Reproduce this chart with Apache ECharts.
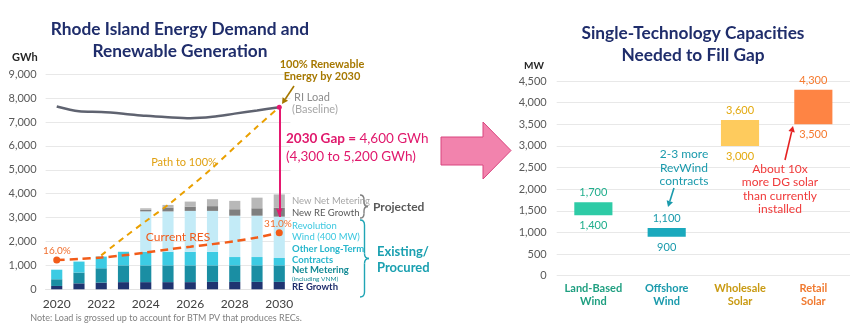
<!DOCTYPE html>
<html>
<head>
<meta charset="utf-8">
<script src="https://cdn.jsdelivr.net/npm/echarts@6.0.0/dist/echarts.min.js"></script>
<style>
  html, body { margin: 0; padding: 0; background: #ffffff; }
  #chart { width: 860px; height: 328px; }
</style>
</head>
<body>
<div id="chart"></div>
<script>
// ---------- Left panel: RI energy demand and renewable generation (GWh) ----------
const years = ['2020', '2021', '2022', '2023', '2024', '2025', '2026', '2027', '2028', '2029', '2030'];
const reGrowth       = [140, 250, 280, 300, 300, 300, 300, 310, 310, 310, 310];
const netMetering    = [280, 450, 600, 700, 700, 700, 700, 690, 690, 690, 690];
const otherContracts = [400, 460, 490, 570, 570, 570, 570, 570, 350, 350, 310];
const revolutionWind = [0, 0, 0, 0, 1690, 1690, 1710, 1710, 1730, 1730, 1730];
const newReGrowth    = [0, 0, 0, 0, 70, 160, 180, 200, 270, 310, 370];
const newNetMetering = [0, 0, 0, 0, 60, 110, 210, 290, 350, 445, 560];
const riLoad         = [7650, 7450, 7420, 7350, 7260, 7200, 7160, 7220, 7350, 7480, 7620];
const currentRes     = [1226, 1270, 1330, 1420, 1540, 1670, 1780, 1890, 2010, 2170, 2370];
const pathTo100      = [null, null, 1420, 2150, 2850, 3530, 4290, 5080, 5950, 6800, 7620];
const resShareStart = '16.0%';
const resShareEnd = '31.0%';
const gapGWh = 4600;
const gwhTicks = { min: 0, max: 9000, interval: 1000 };

// ---------- Right panel: single-technology capacity ranges (MW) ----------
const technologies = ['Land-Based\nWind', 'Offshore\nWind', 'Wholesale\nSolar', 'Retail\nSolar'];
const lowMW  = [1400, 900, 3000, 3500];
const highMW = [1700, 1100, 3600, 4300];
const mwTicks = { min: 0, max: 4500, interval: 500 };

const FONT = 'Lato, "Open Sans", sans-serif';
const fmt = v => Number(v).toLocaleString('en-US');

const barColors   = ['#2ecba6', '#1aa9bd', '#fecb5d', '#fe8444'];
const valueColors = ['#1fae8c', '#1a9aac', '#e3a90e', '#f57a2f'];
const catColors   = ['#1f9f80', '#1a9aac', '#c99a12', '#f07a30'];

const gapTop = riLoad[riLoad.length - 1];
const gapBottom = gapTop - gapGWh;

function text(x, y, str, opts) {
  return {
    type: 'text', silent: true, z: 100,
    style: Object.assign({
      text: str, x: x, y: y, fill: '#595959',
      font: '11px ' + FONT, textAlign: 'left', textVerticalAlign: 'middle'
    }, opts || {})
  };
}

function arrow(x1, y1, x2, y2, color, width, head) {
  const a = Math.atan2(y2 - y1, x2 - x1);
  const hl = head, hw = head * 0.55;
  const bx = x2 - hl * Math.cos(a), by = y2 - hl * Math.sin(a);
  return [
    { type: 'line', silent: true, z: 100, shape: { x1: x1, y1: y1, x2: bx, y2: by },
      style: { stroke: color, lineWidth: width } },
    { type: 'polygon', silent: true, z: 100,
      shape: { points: [[x2, y2],
        [bx + hw * Math.sin(a), by - hw * Math.cos(a)],
        [bx - hw * Math.sin(a), by + hw * Math.cos(a)]] },
      style: { fill: color } }
  ];
}

function brace(x, y1, y2, w, color) {
  const ym = (y1 + y2) / 2, mx = x + w / 2, r = Math.min(5, (y2 - y1) / 5);
  const st = { stroke: color, lineWidth: 1.4, fill: null };
  return [
    { type: 'bezierCurve', silent: true, z: 100, shape: { x1: x, y1: y1, cpx1: mx, cpy1: y1, x2: mx, y2: y1 + r }, style: st },
    { type: 'line', silent: true, z: 100, shape: { x1: mx, y1: y1 + r, x2: mx, y2: ym - r }, style: st },
    { type: 'bezierCurve', silent: true, z: 100, shape: { x1: mx, y1: ym - r, cpx1: mx, cpy1: ym, x2: x + w, y2: ym }, style: st },
    { type: 'bezierCurve', silent: true, z: 100, shape: { x1: x + w, y1: ym, cpx1: mx, cpy1: ym, x2: mx, y2: ym + r }, style: st },
    { type: 'line', silent: true, z: 100, shape: { x1: mx, y1: ym + r, x2: mx, y2: y2 - r }, style: st },
    { type: 'bezierCurve', silent: true, z: 100, shape: { x1: mx, y1: y2 - r, cpx1: mx, cpy1: y2, x2: x, y2: y2 }, style: st }
  ];
}

function stackBar(name, data, color) {
  return {
    name: name, type: 'bar', stack: 'gen', xAxisIndex: 0, yAxisIndex: 0,
    barWidth: '50%', data: data, itemStyle: { color: color }, silent: true
  };
}

const resLineData = currentRes.map((v, i) =>
  (i === 0 || i === currentRes.length - 1) ? { value: v, symbol: 'circle', symbolSize: 7 } : { value: v, symbol: 'none' });

const TITLE = 'bold 17.3px ' + FONT;
const graphics = [
  // titles
  text(180, 29, 'Rhode Island Energy Demand and', { font: TITLE, fill: '#1f2d6b', textAlign: 'center' }),
  text(180, 51, 'Renewable Generation', { font: TITLE, fill: '#1f2d6b', textAlign: 'center' }),
  text(693, 33, 'Single-Technology Capacities', { font: TITLE, fill: '#1f2d6b', textAlign: 'center' }),
  text(693, 55, 'Needed to Fill Gap', { font: TITLE, fill: '#1f2d6b', textAlign: 'center' }),
  text(12, 57, 'GWh', { font: 'bold 11px ' + FONT, fill: '#262626' }),
  text(524, 66, 'MW', { font: 'bold 10px ' + FONT, fill: '#262626' }),

  // left annotations
  text(322, 64, '100% Renewable', { font: 'bold 11px ' + FONT, fill: '#a67800', textAlign: 'center' }),
  text(322, 76, 'Energy by 2030', { font: 'bold 11px ' + FONT, fill: '#a67800', textAlign: 'center' }),
  ...arrow(294, 86, 282, 104, '#a67800', 1.6, 6),
  text(294, 97, 'RI Load', { fill: '#8c8c8c' }),
  text(292, 109, '(Baseline)', { fill: '#a6a6a6' }),
  text(286, 139, '{b|2030 Gap =} 4,600 GWh', {
    font: '13.5px ' + FONT, fill: '#e0186c',
    rich: { b: { fontWeight: 'bold', fontSize: 13.5, fontFamily: FONT, fill: '#e0186c' } }
  }),
  text(286, 157, '(4,300 to 5,200 GWh)', { font: '13.5px ' + FONT, fill: '#e0186c' }),
  text(184, 162, 'Path to 100%', { font: '11px ' + FONT, fill: '#e0a010', textAlign: 'center' }),
  text(178, 237, 'Current RES', { font: '12px ' + FONT, fill: '#f05a1a', textAlign: 'center' }),
  text(57, 251, resShareStart, { font: '10px ' + FONT, fill: '#f07030', textAlign: 'center' }),
  text(278, 224, resShareEnd, { font: '10px ' + FONT, fill: '#f07030', textAlign: 'center' }),

  // series labels
  text(292, 201, 'New Net Metering', { font: '9.5px ' + FONT, fill: '#a6a6a6' }),
  text(292, 213, 'New RE Growth', { font: '9.5px ' + FONT, fill: '#595959' }),
  text(292, 226, 'Revolution', { font: '9.5px ' + FONT, fill: '#3cc8e0' }),
  text(292, 237, 'Wind (400 MW)', { font: '9.5px ' + FONT, fill: '#3cc8e0' }),
  text(292, 249, 'Other Long-Term', { font: 'bold 9.5px ' + FONT, fill: '#27b6cc' }),
  text(292, 260, 'Contracts', { font: 'bold 9.5px ' + FONT, fill: '#27b6cc' }),
  text(292, 270, 'Net Metering', { font: 'bold 9.5px ' + FONT, fill: '#138a95' }),
  text(292, 279, '(including VNM)', { font: '6.5px ' + FONT, fill: '#138a95' }),
  text(292, 287, 'RE Growth', { font: 'bold 9.5px ' + FONT, fill: '#1f2d6b' }),
  ...brace(360, 195, 218, 8, '#7f7f7f'),
  text(373, 207, 'Projected', { font: 'bold 12px ' + FONT, fill: '#595959' }),
  ...brace(360, 220, 297, 9, '#20a5b5'),
  text(377, 252, 'Existing/', { font: 'bold 13px ' + FONT, fill: '#1aa0b0' }),
  text(377, 268, 'Procured', { font: 'bold 13px ' + FONT, fill: '#1aa0b0' }),
  text(166, 318, 'Note: Load is grossed up to account for BTM PV that produces RECs.', {
    font: '9px ' + FONT, fill: '#7f7f7f', textAlign: 'center' }),

  // connector arrow between panels
  { type: 'polygon', silent: true, z: 100,
    shape: { points: [[441, 137], [483, 137], [483, 122], [511, 150.5], [483, 179], [483, 165], [441, 165]] },
    style: { fill: '#f283ad', stroke: '#d9457f', lineWidth: 1 } },

  // right annotations
  text(684, 154, '2-3 more', { font: '12px ' + FONT, fill: '#1a9aac', textAlign: 'center' }),
  text(684, 168, 'RevWind', { font: '12px ' + FONT, fill: '#1a9aac', textAlign: 'center' }),
  text(684, 181, 'contracts', { font: '12px ' + FONT, fill: '#1a9aac', textAlign: 'center' }),
  ...arrow(674, 188, 668, 207, '#1a9aac', 1.6, 6),
  text(780, 169, 'About 10x', { font: '12px ' + FONT, fill: '#f03a3a', textAlign: 'center' }),
  text(780, 182, 'more DG solar', { font: '12px ' + FONT, fill: '#f03a3a', textAlign: 'center' }),
  text(780, 196, 'than currently', { font: '12px ' + FONT, fill: '#f03a3a', textAlign: 'center' }),
  text(780, 209, 'installed', { font: '12px ' + FONT, fill: '#f03a3a', textAlign: 'center' }),
  ...arrow(785, 160, 793, 126, '#e52020', 1.6, 6)
];

const option = {
  animation: false,
  backgroundColor: '#ffffff',
  textStyle: { fontFamily: FONT },
  grid: [
    { left: 45.6, top: 74.2, width: 244.8, height: 215.1, containLabel: false, outerBoundsMode: 'none' },
    { left: 556.7, top: 81, width: 293.3, height: 194.7, containLabel: false, outerBoundsMode: 'none' }
  ],
  xAxis: [
    {
      type: 'category', gridIndex: 0, data: years,
      axisTick: { show: false },
      axisLine: { show: true, lineStyle: { color: '#e3e3e3' } },
      axisLabel: { interval: 1, color: '#404040', fontSize: 12, margin: 9, fontFamily: FONT }
    },
    {
      type: 'category', gridIndex: 1, data: technologies,
      axisTick: { show: false },
      axisLine: { show: false },
      axisLabel: {
        interval: 0, hideOverlap: false,
        color: (v, i) => catColors[i], fontWeight: 'bold', fontSize: 11, lineHeight: 13,
        margin: 6, fontFamily: FONT
      }
    }
  ],
  yAxis: [
    {
      type: 'value', gridIndex: 0, min: gwhTicks.min, max: gwhTicks.max, interval: gwhTicks.interval,
      axisLine: { show: false }, axisTick: { show: false },
      splitLine: { lineStyle: { color: '#e8e8e8' } },
      axisLabel: { formatter: fmt, color: '#595959', fontSize: 11, margin: 9, fontFamily: FONT }
    },
    {
      type: 'value', gridIndex: 1, min: mwTicks.min, max: mwTicks.max, interval: mwTicks.interval,
      axisLine: { show: false }, axisTick: { show: false },
      splitLine: { lineStyle: { color: '#e8e8e8' } },
      axisLabel: { formatter: fmt, color: '#595959', fontSize: 11, margin: 10, fontFamily: FONT }
    }
  ],
  series: [
    stackBar('RE Growth', reGrowth, '#1f3470'),
    stackBar('Net Metering', netMetering, '#1a8ea3'),
    stackBar('Other Long-Term Contracts', otherContracts, '#3ccbe3'),
    stackBar('Revolution Wind', revolutionWind, '#c3ebf7'),
    stackBar('New RE Growth', newReGrowth, '#7f7f7f'),
    stackBar('New Net Metering', newNetMetering, '#b8b8b8'),
    {
      name: 'RI Load', type: 'line', xAxisIndex: 0, yAxisIndex: 0, data: riLoad,
      smooth: 0.3, symbol: 'none', silent: true,
      lineStyle: { color: '#5f6370', width: 2.5 },
      markLine: {
        silent: true, symbol: ['circle', 'arrow'], symbolSize: [5, 9],
        lineStyle: { color: '#e5186f', width: 2, type: 'solid' },
        label: { show: false },
        data: [[{ coord: ['2030', gapTop] }, { coord: ['2030', gapBottom] }]]
      }
    },
    {
      name: 'Path to 100%', type: 'line', xAxisIndex: 0, yAxisIndex: 0, data: pathTo100,
      smooth: 0.3, symbol: 'none', silent: true, connectNulls: false,
      lineStyle: { color: '#eaa000', width: 2, type: [6, 5] }
    },
    {
      name: 'Current RES', type: 'line', xAxisIndex: 0, yAxisIndex: 0, data: resLineData,
      smooth: 0.3, silent: true, showAllSymbol: true,
      itemStyle: { color: '#f25c19' },
      lineStyle: { color: '#f25c19', width: 2.5, type: [8, 5] }
    },
    {
      name: 'Base', type: 'bar', stack: 'mw', xAxisIndex: 1, yAxisIndex: 1, barWidth: '52%',
      silent: true, itemStyle: { color: 'transparent' },
      data: lowMW.map((v, i) => ({
        value: v,
        label: { show: true, position: 'insideTop', distance: 5, color: valueColors[i],
          fontSize: 11, fontFamily: FONT, formatter: () => fmt(lowMW[i]) }
      }))
    },
    {
      name: 'Range', type: 'bar', stack: 'mw', xAxisIndex: 1, yAxisIndex: 1, barWidth: '52%',
      silent: true,
      data: highMW.map((h, i) => ({
        value: h - lowMW[i],
        itemStyle: { color: barColors[i] },
        label: { show: true, position: 'top', distance: 4, color: valueColors[i],
          fontSize: 11, fontFamily: FONT, formatter: () => fmt(highMW[i]) }
      }))
    }
  ],
  graphic: { elements: graphics }
};

const chart = echarts.init(document.getElementById('chart'), null, { renderer: 'canvas' });
chart.setOption(option);
</script>
</body>
</html>
